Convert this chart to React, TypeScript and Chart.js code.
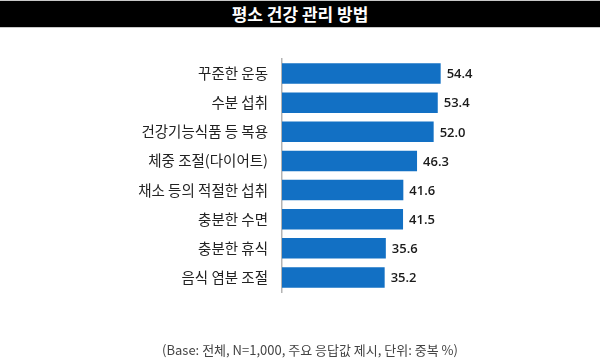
import React, { useEffect, useRef } from "react";
import { Chart, registerables } from "chart.js";

Chart.register(...registerables);

const TITLE = "평소 건강 관리 방법";
const categories = [
  "꾸준한 운동",
  "수분 섭취",
  "건강기능식품 등 복용",
  "체중 조절(다이어트)",
  "채소 등의 적절한 섭취",
  "충분한 수면",
  "충분한 휴식",
  "음식 염분 조절",
];
const values = [54.4, 53.4, 52.0, 46.3, 41.6, 41.5, 35.6, 35.2];
const valueLabels = ["54.4", "53.4", "52.0", "46.3", "41.6", "41.5", "35.6", "35.2"];
const NOTE = "(Base: 전체, N=1,000, 주요 응답값 제시, 단위: 중복 %)";

const KR = '"Noto Sans CJK KR", "Noto Sans", sans-serif';

const valueLabelPlugin = {
  id: "valueLabels",
  afterDatasetsDraw(chart: any) {
    const { ctx } = chart;
    const meta = chart.getDatasetMeta(0);
    ctx.save();
    ctx.font = '600 13px "Open Sans", sans-serif';
    ctx.fillStyle = "#1a1a1a";
    ctx.textAlign = "left";
    ctx.textBaseline = "middle";
    meta.data.forEach((bar: any, i: number) => {
      ctx.fillText(valueLabels[i], bar.x + 6, bar.y + 1);
    });
    ctx.restore();
  },
};

export default function App() {
  const ref = useRef<HTMLCanvasElement | null>(null);

  useEffect(() => {
    if (!ref.current) return;
    const chart = new Chart(ref.current, {
      type: "bar",
      data: {
        labels: categories,
        datasets: [
          {
            data: values,
            backgroundColor: "#1270c4",
            borderWidth: 0,
            barPercentage: 0.7,
            categoryPercentage: 1,
          },
        ],
      },
      options: {
        indexAxis: "y",
        responsive: false,
        animation: false,
        layout: { padding: { top: 59, bottom: 72, left: 0, right: 143 } },
        plugins: {
          legend: { display: false },
          tooltip: { enabled: false },
          title: { display: false },
        },
        scales: {
          x: {
            display: false,
            min: 0,
            max: 60,
          },
          y: {
            afterFit: (scale: any) => {
              scale.width = 282;
            },
            grid: { display: false, drawTicks: false },
            border: { display: true, color: "#b4b4b4", width: 1.5 },
            ticks: {
              padding: 14,
              color: "#222222",
              font: { family: KR, size: 14.5 },
            },
          },
        },
      },
      plugins: [valueLabelPlugin],
    });
    return () => chart.destroy();
  }, []);

  return (
    <div
      style={{
        position: "fixed",
        left: 0,
        top: 0,
        width: 600,
        height: 364,
        background: "#ffffff",
        overflow: "hidden",
      }}
    >
      <div
        style={{
          position: "absolute",
          left: 0,
          top: 0,
          width: 600,
          height: 28,
          background: "#000000",
          borderTop: "1px solid #c8c8c8",
          borderBottom: "1px solid #c8c8c8",
          boxSizing: "border-box",
          color: "#ffffff",
          fontFamily: KR,
          fontWeight: 700,
          fontSize: 17,
          lineHeight: "26px",
          textAlign: "center",
        }}
      >
        {TITLE}
      </div>
      <canvas
        ref={ref}
        width={600}
        height={364}
        style={{ position: "absolute", left: 0, top: 0 }}
      />
      <div
        style={{
          position: "absolute",
          left: 0,
          width: 620,
          top: 341,
          textAlign: "center",
          fontFamily: KR,
          fontSize: 13,
          color: "#444444",
          lineHeight: "18px",
        }}
      >
        {NOTE}
      </div>
    </div>
  );
}
